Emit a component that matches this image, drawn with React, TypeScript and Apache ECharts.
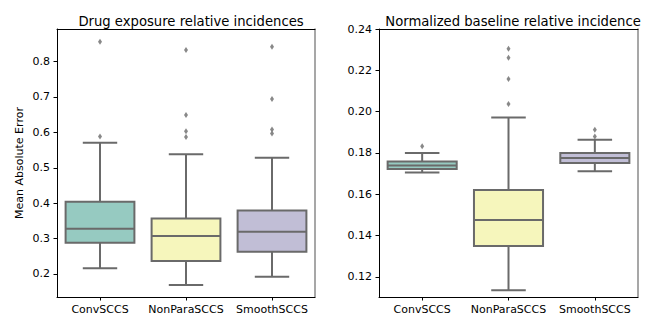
import React, { useEffect, useRef } from "react";
import * as echarts from "echarts";

const categories = ["ConvSCCS", "NonParaSCCS", "SmoothSCCS"];
const boxColors = ["#96cac1", "#f6f6bc", "#c1bed6"];
const lineGray = "#6a6a6a";

// [min, q1, median, q3, max]
const drugBoxes = [
  [0.216, 0.288, 0.328, 0.404, 0.571],
  [0.169, 0.237, 0.307, 0.357, 0.538],
  [0.192, 0.263, 0.319, 0.379, 0.528],
];
const drugOutliers = [
  [0.856, 0.588],
  [0.833, 0.649, 0.603, 0.587],
  [0.842, 0.694, 0.608, 0.597],
];
const baseBoxes = [
  [0.1705, 0.1723, 0.174, 0.1759, 0.18],
  [0.1136, 0.135, 0.1476, 0.1621, 0.1972],
  [0.1711, 0.1752, 0.1776, 0.18, 0.1864],
];
const baseOutliers = [
  [0.1832],
  [0.2305, 0.2261, 0.2158, 0.2037],
  [0.1913, 0.188],
];
const drugTicks = [0.2, 0.3, 0.4, 0.5, 0.6, 0.7, 0.8];
const baseTicks = [0.12, 0.14, 0.16, 0.18, 0.2, 0.22, 0.24];

const FONT = "DejaVu Sans";

function renderBox(params: any, api: any) {
  const x = api.value(0);
  const vals = [1, 2, 3, 4, 5].map((i) => api.value(i));
  const ci = api.value(6);
  const pts = vals.map((v) => api.coord([x, v]));
  const band = api.size([1, 0])[0];
  const cx = pts[0][0];
  const bw = band * 0.8;
  const cw = bw * 0.5;
  const ls = { stroke: lineGray, lineWidth: 2 };
  return {
    type: "group",
    children: [
      { type: "line", shape: { x1: cx, y1: pts[0][1], x2: cx, y2: pts[1][1] }, style: ls },
      { type: "line", shape: { x1: cx, y1: pts[3][1], x2: cx, y2: pts[4][1] }, style: ls },
      { type: "line", shape: { x1: cx - cw / 2, y1: pts[0][1], x2: cx + cw / 2, y2: pts[0][1] }, style: ls },
      { type: "line", shape: { x1: cx - cw / 2, y1: pts[4][1], x2: cx + cw / 2, y2: pts[4][1] }, style: ls },
      {
        type: "rect",
        shape: { x: cx - bw / 2, y: pts[3][1], width: bw, height: pts[1][1] - pts[3][1] },
        style: { fill: boxColors[ci], stroke: lineGray, lineWidth: 2 },
      },
      { type: "line", shape: { x1: cx - bw / 2, y1: pts[2][1], x2: cx + bw / 2, y2: pts[2][1] }, style: ls },
    ],
  };
}

function boxData(boxes: number[][]) {
  return boxes.map((b, i) => [i, ...b, i]);
}
function outlierData(outs: number[][]) {
  const r: number[][] = [];
  outs.forEach((arr, i) => arr.forEach((v) => r.push([i, v])));
  return r;
}

export default function App() {
  const ref = useRef<HTMLDivElement>(null);
  useEffect(() => {
    const chart = echarts.init(ref.current!, null, { renderer: "svg" });
    const grids = [
      { left: 57, top: 29, width: 258, height: 268 },
      { left: 379, top: 29, width: 259, height: 268 },
    ];
    const mkX = (gi: number, top = false) => ({
      type: "category",
      gridIndex: gi,
      data: categories,
      position: top ? "top" : "bottom",
      boundaryGap: true,
      axisLine: { show: true, lineStyle: { color: "#000", width: 1 } },
      axisTick: { show: !top, alignWithLabel: true, interval: 0, length: 3.5, lineStyle: { color: "#000" } },
      axisLabel: { show: !top, interval: 0, color: "#000", fontFamily: FONT, fontSize: 11, margin: 7 },
      splitLine: { show: false },
    });
    const mkY = (gi: number, min: number, max: number, ticks: number[], dec: number, name: string) => ({
      type: "value",
      gridIndex: gi,
      min,
      max,
      name,
      nameLocation: "middle",
      nameGap: 32,
      nameTextStyle: { color: "#000", fontFamily: FONT, fontSize: 11 },
      axisLine: { show: true, lineStyle: { color: "#000", width: 1 } },
      axisTick: { show: true, length: 3.5, customValues: ticks, lineStyle: { color: "#000" } },
      axisLabel: {
        color: "#000",
        fontFamily: FONT,
        fontSize: 11,
        margin: 7,
        customValues: ticks,
        formatter: (v: number) => v.toFixed(dec),
      },
      splitLine: { show: false },
    });
    const mkYRight = (gi: number, min: number, max: number) => ({
      type: "value",
      gridIndex: gi,
      min,
      max,
      position: "right",
      axisLine: { show: true, lineStyle: { color: "#8a8a8a", width: 1.5 } },
      axisTick: { show: false },
      axisLabel: { show: false },
      splitLine: { show: false },
    });
    const option: any = {
      animation: false,
      title: [
        {
          text: "Drug exposure relative incidences",
          left: 186,
          top: 10,
          textAlign: "center",
          textStyle: { fontFamily: FONT, fontSize: 13.2, fontWeight: "normal", color: "#000" },
        },
        {
          text: "Normalized baseline relative incidence",
          left: 508,
          top: 10,
          textAlign: "center",
          textStyle: { fontFamily: FONT, fontSize: 13.2, fontWeight: "normal", color: "#000" },
        },
      ],
      grid: grids,
      xAxis: [mkX(0), mkX(1), mkX(0, true), mkX(1, true)],
      yAxis: [
        mkY(0, 0.135, 0.892, drugTicks, 1, "Mean Absolute Error"),
        mkY(1, 0.1103, 0.24, baseTicks, 2, ""),
        mkYRight(0, 0.135, 0.892),
        mkYRight(1, 0.1103, 0.24),
      ],
      series: [
        {
          type: "custom",
          xAxisIndex: 0,
          yAxisIndex: 0,
          renderItem: renderBox,
          encode: { x: 0, y: [1, 2, 3, 4, 5] },
          data: boxData(drugBoxes),
          z: 2,
        },
        {
          type: "custom",
          xAxisIndex: 1,
          yAxisIndex: 1,
          renderItem: renderBox,
          encode: { x: 0, y: [1, 2, 3, 4, 5] },
          data: boxData(baseBoxes),
          z: 2,
        },
        {
          type: "scatter",
          xAxisIndex: 0,
          yAxisIndex: 0,
          symbol: "diamond",
          symbolSize: [4, 6],
          itemStyle: { color: lineGray },
          data: outlierData(drugOutliers),
          z: 3,
        },
        {
          type: "scatter",
          xAxisIndex: 1,
          yAxisIndex: 1,
          symbol: "diamond",
          symbolSize: [4, 6],
          itemStyle: { color: lineGray },
          data: outlierData(baseOutliers),
          z: 3,
        },
      ],
    };
    chart.setOption(option);
    return () => chart.dispose();
  }, []);
  return <div ref={ref} style={{ width: 664, height: 332, position: "absolute", left: 0, top: 0 }} />;
}
